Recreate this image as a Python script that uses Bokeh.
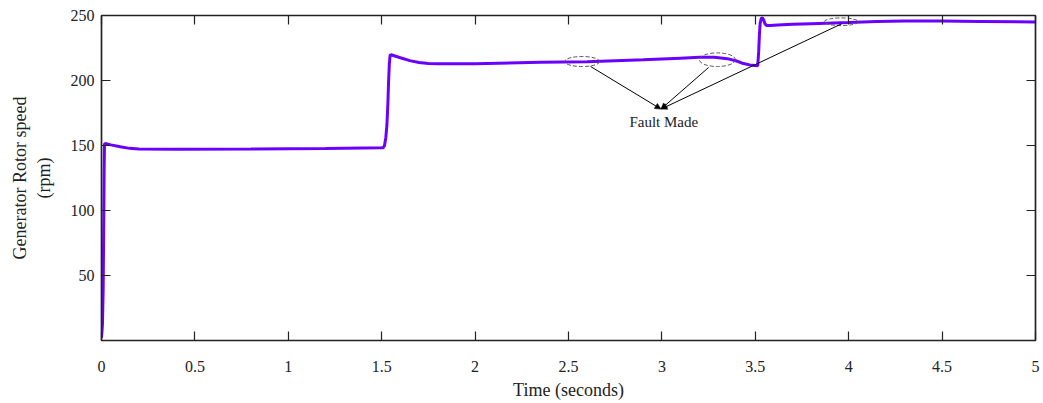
from bokeh.plotting import figure
from bokeh.models import LinearAxis, FixedTicker, Arrow, NormalHead, Label, ColumnDataSource
from bokeh.embed import file_html
from bokeh.resources import INLINE

# ---- data ----
time_s = [0.0, 0.005, 0.009, 0.012, 0.014, 0.016, 0.02, 0.05, 0.1, 0.15, 0.2, 0.4, 0.8, 1.2, 1.5,
          1.508, 1.515, 1.522, 1.528, 1.533, 1.537, 1.541, 1.545, 1.55, 1.6, 1.65, 1.7, 1.75, 1.8,
          2.0, 2.35, 2.6, 2.9, 3.1, 3.2, 3.28, 3.35, 3.4, 3.43, 3.47, 3.5, 3.513,
          3.518, 3.522, 3.526, 3.532, 3.538, 3.545, 3.552, 3.56, 3.58, 3.62, 3.7, 3.8,
          4.0, 4.15, 4.3, 4.5, 4.7, 5.0]
speed_rpm = [2.0, 12.0, 40.0, 90.0, 130.0, 151.0, 151.5, 150.5, 149.0, 147.8, 147.3, 147.1, 147.3, 147.7, 148.2,
             148.3, 150.0, 156.0, 166.0, 182.0, 200.0, 213.0, 219.5, 219.8, 217.5, 215.3, 213.8, 213.0, 212.8,
             212.8, 214.0, 214.5, 215.9, 217.2, 217.8, 217.8, 216.8, 215.0, 213.3, 212.0, 211.5, 211.3,
             222.0, 235.0, 244.0, 247.8, 248.2, 246.5, 243.5, 242.4, 242.3, 242.6, 243.2, 243.7,
             244.6, 245.4, 245.8, 245.7, 245.4, 245.0]

x_ticks = [0, 0.5, 1, 1.5, 2, 2.5, 3, 3.5, 4, 4.5, 5]
x_tick_labels = ["0", "0.5", "1", "1.5", "2", "2.5", "3", "3.5", "4", "4.5", "5"]
y_ticks = [50, 100, 150, 200, 250]
y_tick_labels = ["50", "100", "150", "200", "250"]

# fault annotations
fault_t = [2.573, 3.297, 3.96]
fault_v = [214.6, 216.0, 245.2]
fault_w = [0.187, 0.193, 0.182]
fault_h = [7.7, 10.5, 5.9]
arrow_from_t = [2.618, 3.25, 3.962]
arrow_from_v = [210.8, 210.0, 243.6]
arrow_to_t = 2.995
arrow_to_v = 178.0
fault_label = "Fault Made"
fault_label_t = 3.01
fault_label_v = 167.7

FONT = "Liberation Serif"

p = figure(width=1043, height=403, x_range=(0, 5), y_range=(0, 250),
           output_backend="svg", toolbar_location=None,
           min_border_left=101, min_border_right=8, min_border_top=15, min_border_bottom=63,
           x_axis_label="Time (seconds)", y_axis_label="Generator Rotor speed\n(rpm)")
p.grid.visible = False
p.outline_line_color = "black"
p.outline_line_width = 1.2
p.background_fill_color = "white"
p.border_fill_color = "white"

def style_axis(ax, ticks, labels, show_labels):
    ax.ticker = FixedTicker(ticks=ticks)
    ax.minor_tick_line_color = None
    ax.major_tick_in = 9
    ax.major_tick_out = 0
    ax.major_tick_line_color = "#222222"
    ax.major_tick_line_width = 1.2
    ax.axis_line_color = "#222222"
    ax.axis_line_width = 1.5
    ax.major_label_text_font = FONT
    ax.major_label_text_color = "#222222"
    if show_labels:
        ax.major_label_overrides = {t: l for t, l in zip(ticks, labels)}
        ax.major_label_text_font_size = "16px"
    else:
        ax.major_label_overrides = {t: "" for t in ticks}
        ax.major_label_standoff = 0

style_axis(p.xaxis[0], x_ticks, x_tick_labels, True)
style_axis(p.yaxis[0], y_ticks, y_tick_labels, True)
p.xaxis[0].major_label_standoff = 20
p.yaxis[0].major_label_standoff = 7
for ax in (p.xaxis[0], p.yaxis[0]):
    ax.axis_label_text_font = FONT
    ax.axis_label_text_font_size = "18px"
    ax.axis_label_text_font_style = "normal"
    ax.axis_label_text_color = "#222222"
p.xaxis[0].axis_label_standoff = 5
p.yaxis[0].axis_label_standoff = 14

top_ax = LinearAxis()
right_ax = LinearAxis()
style_axis(top_ax, x_ticks, x_tick_labels, False)
style_axis(right_ax, y_ticks, y_tick_labels, False)
p.add_layout(top_ax, "above")
p.add_layout(right_ax, "right")

# main curve
src = ColumnDataSource(dict(t=time_s, v=speed_rpm))
p.line("t", "v", source=src, line_color="#6A00FF", line_width=3)

# fault ellipses
esrc = ColumnDataSource(dict(t=fault_t, v=fault_v, w=fault_w, h=fault_h))
p.ellipse(x="t", y="v", width="w", height="h", source=esrc, fill_color=None,
          line_color="#555555", line_dash="4 2", line_width=1)

# arrows
for ft, fv in zip(arrow_from_t, arrow_from_v):
    p.add_layout(Arrow(x_start=ft, y_start=fv, x_end=arrow_to_t, y_end=arrow_to_v,
                       line_color="black", line_width=1,
                       end=NormalHead(size=6, fill_color="black", line_color="black", line_width=0.5)))

p.add_layout(Label(x=fault_label_t, y=fault_label_v, text=fault_label,
                   text_font=FONT, text_font_size="15px", text_color="#222222",
                   text_align="center", text_baseline="middle"))

open("out.html", "w").write(file_html(p, INLINE))
